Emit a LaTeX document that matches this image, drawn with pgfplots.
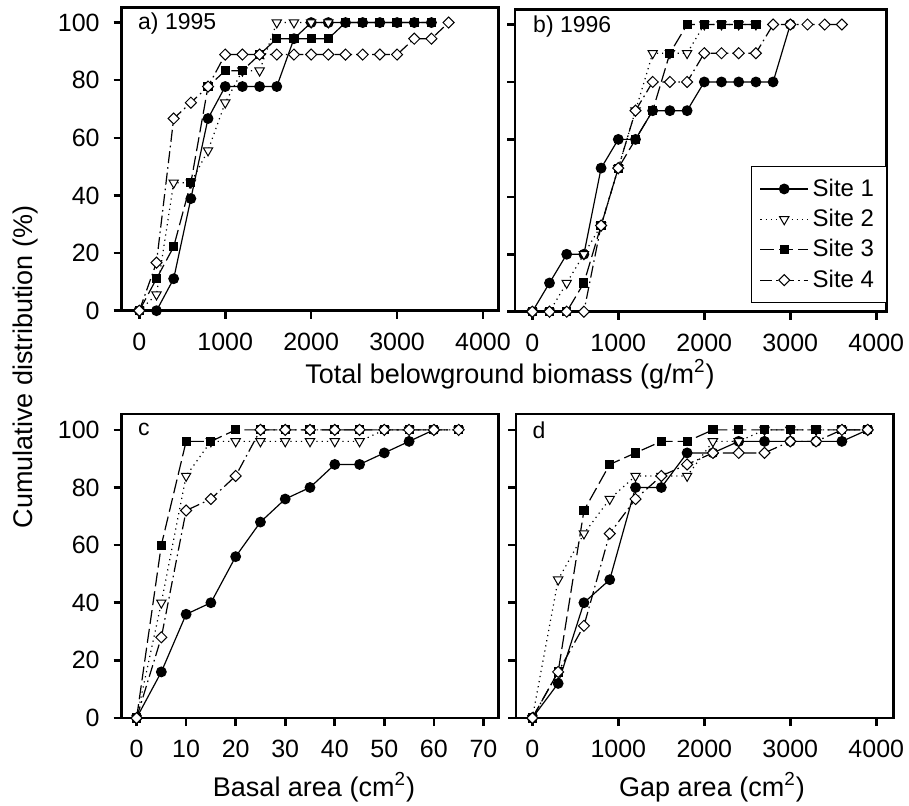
\documentclass[border=0pt]{standalone}
\usepackage{pgfplots}
\pgfplotsset{compat=1.18}
\usepackage{fontspec}
\setmainfont{Liberation Sans}
\tikzset{lbl/.style={font=\fontsize{11.5}{11.5}\selectfont, anchor=west}}
\pgfplotsset{
  panel/.style={
    scale only axis, anchor=south west, clip=false,
    ymin=0, ytick={0,20,...,100},
    axis line style={line width=1.3pt},
    tick style={line width=1.3pt, black},
    tick align=outside, major tick length=4pt,
    xtick pos=bottom, ytick pos=left,
    tick label style={font=\fontsize{12.5}{12.5}\selectfont},
    xticklabel style={yshift=-3.5pt},
    yticklabel style={xshift=-3.5pt},
    /pgf/number format/assume math mode=true,
    /pgf/number format/1000 sep={},
    scaled ticks=false,
  },
  s1/.style={black, solid, line width=0.6pt, mark=*, mark size=2.4pt, mark options={solid, fill=black}},
  s2/.style={black, line width=0.6pt, dash pattern=on 0.6pt off 2pt, mark=triangle*, mark size=2.7pt, mark options={solid, rotate=180, fill=white, draw=black, line width=0.5pt}},
  s3/.style={black, line width=0.6pt, dash pattern=on 7pt off 2.5pt, mark=square*, mark size=2pt, mark options={solid, fill=black}},
  s4/.style={black, line width=0.6pt, dash pattern=on 6pt off 2pt on 0.8pt off 2pt, mark=square*, mark size=1.95pt, mark options={solid, rotate=45, fill=white, draw=black, line width=0.5pt}},
}
\begin{document}
\begin{tikzpicture}
\path[use as bounding box] (0,0) rectangle (454.5pt,402.5pt);

% ---------- panel a ----------
\begin{axis}[panel, at={(60.85pt,247.15pt)}, width=188.5pt, height=151.7pt,
  xmin=-205, xmax=4183, ymax=105.3, xtick={0,1000,...,4000}]
\addplot[s1] coordinates {(0,0)(200,0)(400,11.1)(600,38.9)(800,66.7)(1000,77.8)(1200,77.8)(1400,77.8)(1600,77.8)(1800,94.4)(2000,100)(2200,100)(2400,100)(2600,100)(2800,100)(3000,100)(3200,100)(3400,100)};
\addplot[s2] coordinates {(0,0)(200,5.6)(400,44.4)(600,44.4)(800,55.6)(1000,72.2)(1200,83.3)(1400,83.3)(1600,100)(1800,100)(2000,100)(2200,100)};
\addplot[s3] coordinates {(0,0)(200,11.1)(400,22.2)(600,44.4)(800,77.8)(1000,83.3)(1200,83.3)(1400,88.9)(1600,94.4)(1800,94.4)(2000,94.4)(2200,94.4)(2400,100)(2600,100)(2800,100)(3000,100)(3200,100)(3400,100)};
\addplot[s4] coordinates {(0,0)(200,16.7)(400,66.7)(600,72.2)(800,77.8)(1000,88.9)(1200,88.9)(1400,88.9)(1600,88.9)(1800,88.9)(2000,88.9)(2200,88.9)(2400,88.9)(2600,88.9)(2800,88.9)(3000,88.9)(3200,94.4)(3400,94.4)(3600,100)};
\node[lbl] at (rel axis cs:0.025,0.948) {a) 1995};
\end{axis}

% ---------- panel b ----------
\begin{axis}[panel, at={(257.5pt,246.65pt)}, width=185.85pt, height=151.2pt,
  xmin=-201, xmax=4121, ymax=105.3, xtick={0,1000,...,4000}, yticklabels={},
  legend style={at={(rel axis cs:1,0.029)}, anchor=south east, draw=black, line width=0.6pt,
    font=\fontsize{12}{12}\selectfont, inner sep=4pt, row sep=1pt, cells={anchor=west}},
  legend image code/.code={\draw[mark repeat=2,mark phase=2] plot coordinates {(0cm,0cm)(0.42cm,0cm)(0.84cm,0cm)};}]
\addplot[s1] coordinates {(0,0)(200,10)(400,20)(600,20)(800,50)(1000,60)(1200,60)(1400,70)(1600,70)(1800,70)(2000,80)(2200,80)(2400,80)(2600,80)(2800,80)(3000,100)};
\addlegendentry{Site 1}
\addplot[s2] coordinates {(0,0)(200,0)(400,10)(600,20)(800,30)(1000,50)(1200,70)(1400,90)(1600,90)(1800,90)(2000,100)(2200,100)(2400,100)(2600,100)};
\addlegendentry{Site 2}
\addplot[s3] coordinates {(0,0)(200,0)(400,0)(600,10)(800,30)(1000,50)(1200,60)(1400,70)(1600,90)(1800,100)(2000,100)(2200,100)(2400,100)(2600,100)};
\addlegendentry{Site 3}
\addplot[s4] coordinates {(0,0)(200,0)(400,0)(600,0)(800,30)(1000,50)(1200,70)(1400,80)(1600,80)(1800,80)(2000,90)(2200,90)(2400,90)(2600,90)(2800,100)(3000,100)(3200,100)(3400,100)(3600,100)};
\addlegendentry{Site 4}
\node[lbl] at (rel axis cs:0.03,0.942) {b) 1996};
\end{axis}

% ---------- panel c ----------
\begin{axis}[panel, at={(60.85pt,43.5pt)}, width=188.3pt, height=152pt,
  xmin=-3, xmax=73, ymax=105.5, xtick={0,10,...,70}]
\addplot[s1] coordinates {(0,0)(5,16)(10,36)(15,40)(20,56)(25,68)(30,76)(35,80)(40,88)(45,88)(50,92)(55,96)(60,100)};
\addplot[s2] coordinates {(0,0)(5,40)(10,84)(15,96)(20,96)(25,96)(30,96)(35,96)(40,96)(45,96)(50,100)(55,100)(60,100)(65,100)};
\addplot[s3] coordinates {(0,0)(5,60)(10,96)(15,96)(20,100)(25,100)(30,100)(35,100)(40,100)(45,100)(50,100)(55,100)(60,100)(65,100)};
\addplot[s4] coordinates {(0,0)(5,28)(10,72)(15,76)(20,84)(25,100)(30,100)(35,100)(40,100)(45,100)(50,100)(55,100)(60,100)(65,100)};
\node[lbl] at (rel axis cs:0.025,0.948) {c};
\end{axis}

% ---------- panel d ----------
\begin{axis}[panel, at={(258pt,43.5pt)}, width=188.65pt, height=152pt,
  xmin=-190, xmax=4198, ymax=105.5, xtick={0,1000,...,4000}, yticklabels={}]
\addplot[s1] coordinates {(0,0)(300,12)(600,40)(900,48)(1200,80)(1500,80)(1800,92)(2100,92)(2400,96)(2700,96)(3000,96)(3300,96)(3600,96)(3900,100)};
\addplot[s2] coordinates {(0,0)(300,48)(600,64)(900,76)(1200,84)(1500,84)(1800,84)(2100,96)(2400,96)(2700,100)(3000,100)(3300,100)(3600,100)(3900,100)};
\addplot[s3] coordinates {(0,0)(300,16)(600,72)(900,88)(1200,92)(1500,96)(1800,96)(2100,100)(2400,100)(2700,100)(3000,100)(3300,100)(3600,100)(3900,100)};
\addplot[s4] coordinates {(0,0)(300,16)(600,32)(900,64)(1200,76)(1500,84)(1800,88)(2100,92)(2400,92)(2700,92)(3000,96)(3300,96)(3600,100)(3900,100)};
\node[lbl] at (rel axis cs:0.025,0.948) {d};
\end{axis}

% ---------- shared labels ----------
\node[rotate=90, anchor=base, font=\fontsize{13.5}{13.5}\selectfont] at (16.5pt,219pt) {Cumulative distribution (\%)};
\node[anchor=base, font=\fontsize{13.5}{13.5}\selectfont] at (255pt,211pt) {Total belowground biomass (g/m\textsuperscript{2})};
\node[anchor=base, font=\fontsize{13.5}{13.5}\selectfont] at (157pt,4.5pt) {Basal area (cm\textsuperscript{2})};
\node[anchor=base, font=\fontsize{13.5}{13.5}\selectfont] at (356pt,4.5pt) {Gap area (cm\textsuperscript{2})};
\end{tikzpicture}
\end{document}
